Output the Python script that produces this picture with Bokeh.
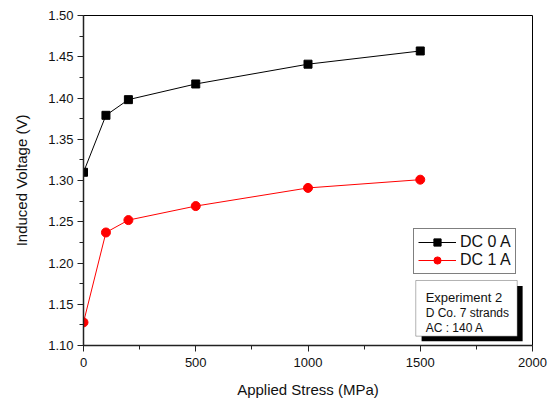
from bokeh.plotting import figure
from bokeh.models import (Legend, LegendItem, BoxAnnotation, Label, FixedTicker,
                          Range1d, PrintfTickFormatter)
from bokeh.embed import file_html
from bokeh.resources import INLINE

# ---- data ----
stress = [0, 100, 200, 500, 1000, 1500]
dc0 = [1.310, 1.379, 1.398, 1.417, 1.441, 1.457]
dc1 = [1.128, 1.237, 1.252, 1.269, 1.291, 1.301]
series_labels = ["DC 0 A", "DC 1 A"]
x_ticks = [0, 500, 1000, 1500, 2000]
y_ticks = [1.10, 1.15, 1.20, 1.25, 1.30, 1.35, 1.40, 1.45, 1.50]
note_lines = ["Experiment 2", "D Co. 7 strands", "AC : 140 A"]

FONT = "Liberation Sans"

p = figure(width=553, height=403,
           x_range=Range1d(0, 2000), y_range=Range1d(1.10, 1.50),
           output_backend="svg", toolbar_location=None,
           min_border_left=83, min_border_right=21,
           min_border_top=15, min_border_bottom=58)

p.xgrid.visible = False
p.ygrid.visible = False
p.outline_line_color = "black"
p.outline_line_width = 1
p.background_fill_color = "white"
p.border_fill_color = "white"

x_minor = [(a + b) / 2 for a, b in zip(x_ticks[:-1], x_ticks[1:])]
y_minor = [(a + b) / 2 for a, b in zip(y_ticks[:-1], y_ticks[1:])]
p.xaxis.ticker = FixedTicker(ticks=x_ticks, minor_ticks=x_minor)
p.yaxis.ticker = FixedTicker(ticks=y_ticks, minor_ticks=y_minor)
p.yaxis.formatter = PrintfTickFormatter(format="%.2f")

for ax in (p.xaxis[0], p.yaxis[0]):
    ax.axis_line_color = "#222222"
    ax.axis_line_width = 1.5
    ax.major_tick_line_color = "#222222"
    ax.minor_tick_line_color = "#222222"
    ax.major_tick_line_width = 1
    ax.minor_tick_line_width = 1
    ax.major_tick_in = 0
    ax.minor_tick_in = 0
    ax.major_tick_out = 6
    ax.minor_tick_out = 4
    ax.major_label_text_font = FONT
    ax.major_label_text_font_size = "13px"
    ax.major_label_text_color = "#111111"
    ax.axis_label_text_font = FONT
    ax.axis_label_text_font_size = "15px"
    ax.axis_label_text_font_style = "normal"
    ax.axis_label_text_color = "#111111"

p.xaxis.axis_label = "Applied Stress (MPa)"
p.yaxis.axis_label = "Induced Voltage (V)"
p.yaxis.major_label_standoff = 4
p.xaxis.major_label_standoff = 6
p.yaxis.axis_label_standoff = 15
p.xaxis.axis_label_standoff = 11

l0 = p.line(stress, dc0, line_color="black", line_width=1)
s0 = p.scatter(stress, dc0, marker="square", size=8, fill_color="black", line_color="black")
l1 = p.line(stress, dc1, line_color="red", line_width=1)
s1 = p.scatter(stress, dc1, marker="circle", size=9, fill_color="red", line_color="red")

legend = Legend(items=[LegendItem(label=series_labels[0], renderers=[l0, s0]),
                       LegendItem(label=series_labels[1], renderers=[l1, s1])],
                location=(330, 71), orientation="vertical",
                padding=4, spacing=0, margin=0,
                glyph_width=38, glyph_height=18, label_height=18,
                label_standoff=4,
                label_text_font=FONT, label_text_font_size="16px",
                label_text_color="#111111",
                border_line_color="black", border_line_width=1,
                background_fill_color="white", background_fill_alpha=1)
p.add_layout(legend)

# note box with drop shadow (positions in data units)
shadow = BoxAnnotation(left=1506, right=1956, bottom=1.1052, top=1.1720,
                       fill_color="black", fill_alpha=1, line_alpha=0, level="overlay")
box = BoxAnnotation(left=1480, right=1932, bottom=1.1113, top=1.1788,
                    fill_color="white", fill_alpha=1, line_color="black",
                    line_width=1, level="overlay")
p.add_layout(shadow)
p.add_layout(box)

note_y = [1.1578, 1.1396, 1.1215]
note_sizes = ["13px", "12px", "12px"]
for txt, yy, fs in zip(note_lines, note_y, note_sizes):
    p.add_layout(Label(x=1524, y=yy, text=txt, text_font=FONT, text_font_size=fs,
                       text_color="#111111", text_baseline="alphabetic",
                       text_align="left", level="overlay"))

open("out.html", "w").write(file_html(p, INLINE))
